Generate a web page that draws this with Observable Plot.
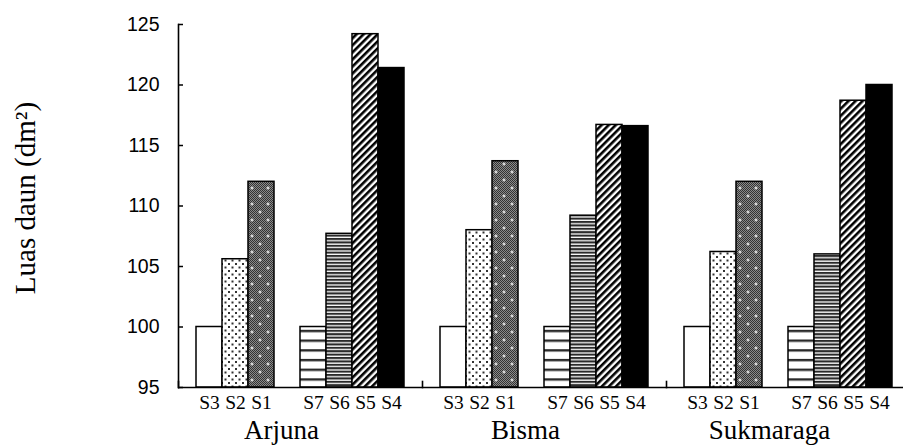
<!DOCTYPE html>
<html>
<head>
<meta charset="utf-8">
<script src="https://cdn.jsdelivr.net/npm/d3@7"></script>
<script src="https://cdn.jsdelivr.net/npm/@observablehq/plot@0.6"></script>
<style>
  html, body { margin: 0; padding: 0; background: white; overflow: hidden; }
</style>
</head>
<body>
<div id="chart"></div>
<script>
// ---- data ----
const groups = ["Arjuna", "Bisma", "Sukmaraga"];
const series = ["S3", "S2", "S1", "S7", "S6", "S5", "S4"];
const arjuna = [100, 105.6, 112.0, 100, 107.7, 124.2, 121.4];
const bisma = [100, 108.0, 113.7, 100, 109.2, 116.7, 116.6];
const sukmaraga = [100, 106.2, 112.0, 100, 106.0, 118.7, 120.0];
const yTicks = [95, 100, 105, 110, 115, 120, 125];
const yLabel = "Luas daun (dm²)";

const valuesByGroup = [arjuna, bisma, sukmaraga];
const data = groups.flatMap((g, gi) =>
  series.map((s, si) => ({group: g, series: s, value: valuesByGroup[gi][si]}))
);
// slot order inside each group, with an empty slot between S1 and S7
const slots = ["S3", "S2", "S1", "", "S7", "S6", "S5", "S4"];
const fills = {
  S3: "white", S2: "url(#pS2)", S1: "url(#pS1)",
  S7: "url(#pS7)", S6: "url(#pS6)", S5: "url(#pS5)", S4: "black"
};

const marginTop = 24, marginBottom = 59, H = 446;
const frameH = H - marginTop - marginBottom;

const svg = Plot.plot({
  width: 903,
  height: H,
  marginLeft: 178,
  marginRight: -7,
  marginTop,
  marginBottom,
  style: {background: "white", color: "black", fontFamily: "Liberation Sans, Arial, sans-serif"},
  fx: {domain: groups, padding: 0, label: null},
  x: {domain: slots, paddingInner: 0, paddingOuter: 0.69, label: null},
  y: {domain: [95, 125], label: null},
  color: {type: "identity"},
  marks: [
    Plot.barY(data, {
      fx: "group", x: "series", y1: 95, y2: "value",
      fill: d => fills[d.series], stroke: "black", strokeWidth: 1.5, inset: 0
    }),
    Plot.ruleY([95], {stroke: "black", strokeWidth: 1.6}),
    Plot.frame({anchor: "left", facetAnchor: "left", stroke: "black", strokeWidth: 1.6}),
    Plot.frame({anchor: "left", insetTop: frameH - 6, stroke: "black", strokeWidth: 1.6}),
    Plot.axisY({ticks: yTicks, tickSize: -5, tickPadding: 24, strokeWidth: 1.5,
      fontSize: 19.5, fontFamily: "Liberation Sans, Arial, sans-serif", label: null}),
    Plot.axisX({ticks: series, tickSize: 0, tickPadding: 8,
      fontSize: 19.5, fontFamily: "Liberation Serif, Times New Roman, serif", label: null}),
    Plot.axisFx({anchor: "bottom", tickSize: 0, tickPadding: 32, dx: -19,
      fontSize: 27, fontFamily: "Liberation Serif, Times New Roman, serif", label: null}),
    Plot.text([yLabel], {
      frameAnchor: "left", facetAnchor: "left", textAnchor: "middle", lineAnchor: "middle",
      rotate: -90, dx: -153, dy: -8,
      fontSize: 29, fontFamily: "Liberation Serif, Times New Roman, serif", fill: "black"
    })
  ]
});

// ---- fill patterns ----
const defs = d3.select(svg).insert("defs", ":first-child");
function pat(id, w, h, transform) {
  const p = defs.append("pattern").attr("id", id)
    .attr("patternUnits", "userSpaceOnUse").attr("width", w).attr("height", h);
  if (transform) p.attr("patternTransform", transform);
  return p;
}
// S2: dotted
{
  const p = pat("pS2", 7, 7);
  p.append("rect").attr("width", 7).attr("height", 7).attr("fill", "white");
  p.append("rect").attr("x", 0.5).attr("y", 0.5).attr("width", 2).attr("height", 2).attr("fill", "#333");
  p.append("rect").attr("x", 4).attr("y", 4).attr("width", 2).attr("height", 2).attr("fill", "#333");
}
// S1: fine dark checker with white crosses
{
  const p = pat("pS1", 16, 16);
  p.append("rect").attr("width", 16).attr("height", 16).attr("fill", "#8a8a8a");
  for (let i = 0; i < 16; i++) for (let j = 0; j < 16; j++) {
    if ((i + j) % 2 === 0) p.append("rect").attr("x", i).attr("y", j).attr("width", 1).attr("height", 1).attr("fill", "#333");
  }
  for (const [cx, cy] of [[4, 4], [12, 12]]) {
    p.append("rect").attr("x", cx - 1.5).attr("y", cy - 0.5).attr("width", 3).attr("height", 1).attr("fill", "white");
    p.append("rect").attr("x", cx - 0.5).attr("y", cy - 1.5).attr("width", 1).attr("height", 3).attr("fill", "white");
  }
}
// S7: wide horizontal lines
{
  const p = pat("pS7", 10, 9.7);
  p.append("rect").attr("width", 10).attr("height", 9.7).attr("fill", "white");
  p.append("rect").attr("y", 0).attr("width", 10).attr("height", 2.4).attr("fill", "#2a2a2a");
}
// S6: dense horizontal lines
{
  const p = pat("pS6", 10, 3.4);
  p.append("rect").attr("width", 10).attr("height", 3.4).attr("fill", "white");
  p.append("rect").attr("y", 0).attr("width", 10).attr("height", 2.1).attr("fill", "#2a2a2a");
}
// S5: diagonal stripes
{
  const p = pat("pS5", 5, 5, "rotate(45)");
  p.append("rect").attr("width", 5).attr("height", 5).attr("fill", "white");
  p.append("rect").attr("width", 2.6).attr("height", 5).attr("fill", "black");
}

document.getElementById("chart").appendChild(svg);
</script>
</body>
</html>
